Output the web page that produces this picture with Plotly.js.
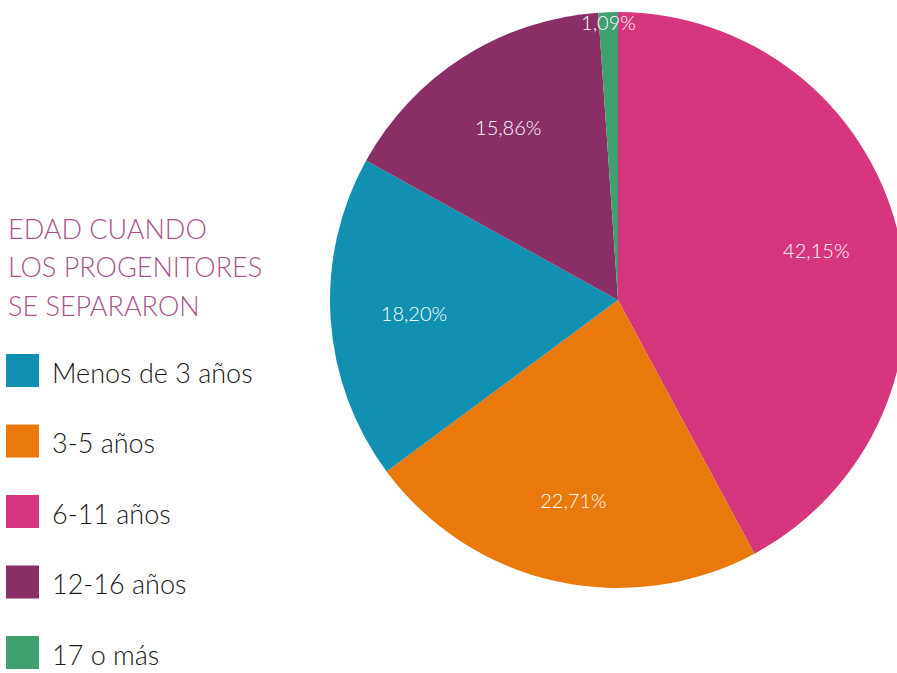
<!DOCTYPE html>
<html>
<head>
<meta charset="utf-8">
<script src="https://cdn.plot.ly/plotly-3.0.1.min.js"></script>
<style>
html,body{margin:0;padding:0;overflow:hidden;background:#fff;width:897px;height:673px;}
#chart{width:920px;height:673px;}
</style>
</head>
<body>
<div id="chart"></div>
<script>
// Data (pie order, clockwise from 12 o'clock)
const sliceLabels = ['6-11 años', '3-5 años', 'Menos de 3 años', '12-16 años', '17 o más'];
const sliceValues = [42.15, 22.71, 18.20, 15.86, 1.09];
const sliceText = ['42,15%', '22,71%', '18,20%', '15,86%', '1,09%'];
const sliceColors = ['#d6367d', '#e8790a', '#1190b1', '#8a2e66', '#40a070'];

// Legend order
const legendLabels = ['Menos de 3 años', '3-5 años', '6-11 años', '12-16 años', '17 o más'];
const legendColors = ['#1190b1', '#e8790a', '#d6367d', '#8a2e66', '#40a070'];

const titleLines = ['EDAD CUANDO', 'LOS PROGENITORES', 'SE SEPARARON'];

const W = 920, H = 673;
const px = x => x / W;
const py = y => 1 - y / H;

const FONT = 'Lato, "Open Sans", sans-serif';

const shapes = [];
const annotations = [];

titleLines.forEach((t, i) => {
  annotations.push({
    text: t, x: px(6), y: py(228 + i * 39), xref: 'paper', yref: 'paper',
    xanchor: 'left', yanchor: 'middle', showarrow: false,
    font: {family: FONT, size: 27, color: '#a8548c', weight: 300}
  });
});

legendLabels.forEach((t, i) => {
  const top = 354 + i * 70.5;
  shapes.push({
    type: 'rect', xref: 'paper', yref: 'paper',
    x0: px(6), x1: px(39), y0: py(top + 33), y1: py(top),
    fillcolor: legendColors[i], line: {width: 0}
  });
  annotations.push({
    text: t, x: px(50), y: py(top + 18), xref: 'paper', yref: 'paper',
    xanchor: 'left', yanchor: 'middle', showarrow: false,
    font: {family: FONT, size: 27, color: '#1a1a1a', weight: 300}
  });
});

const dom = {x: [px(330), px(906)], y: [py(588), py(12)]};

const data = [{
  type: 'pie',
  labels: sliceLabels,
  values: sliceValues,
  textinfo: 'none',
  hoverinfo: 'label+percent',
  marker: {colors: sliceColors, line: {width: 0}},
  sort: false,
  direction: 'clockwise',
  rotation: 0,
  showlegend: false,
  domain: dom
}, {
  // label layer: same data, transparent, with a hole so labels sit further out
  type: 'pie',
  labels: sliceLabels,
  values: sliceValues,
  text: sliceText,
  textinfo: 'text',
  hoverinfo: 'skip',
  hole: 0.42,
  textposition: 'inside',
  insidetextorientation: 'horizontal',
  textfont: {family: FONT, size: 20, color: '#ffffff', weight: 300},
  marker: {colors: ['rgba(0,0,0,0)','rgba(0,0,0,0)','rgba(0,0,0,0)','rgba(0,0,0,0)','rgba(0,0,0,0)'], line: {width: 0}},
  sort: false,
  direction: 'clockwise',
  rotation: 0,
  showlegend: false,
  domain: dom
}];

const layout = {
  width: W, height: H,
  margin: {l: 0, r: 0, t: 0, b: 0},
  paper_bgcolor: '#ffffff',
  showlegend: false,
  uniformtext: {mode: 'show', minsize: 20},
  shapes: shapes,
  annotations: annotations
};

Plotly.newPlot('chart', data, layout, {staticPlot: true});
</script>
</body>
</html>
